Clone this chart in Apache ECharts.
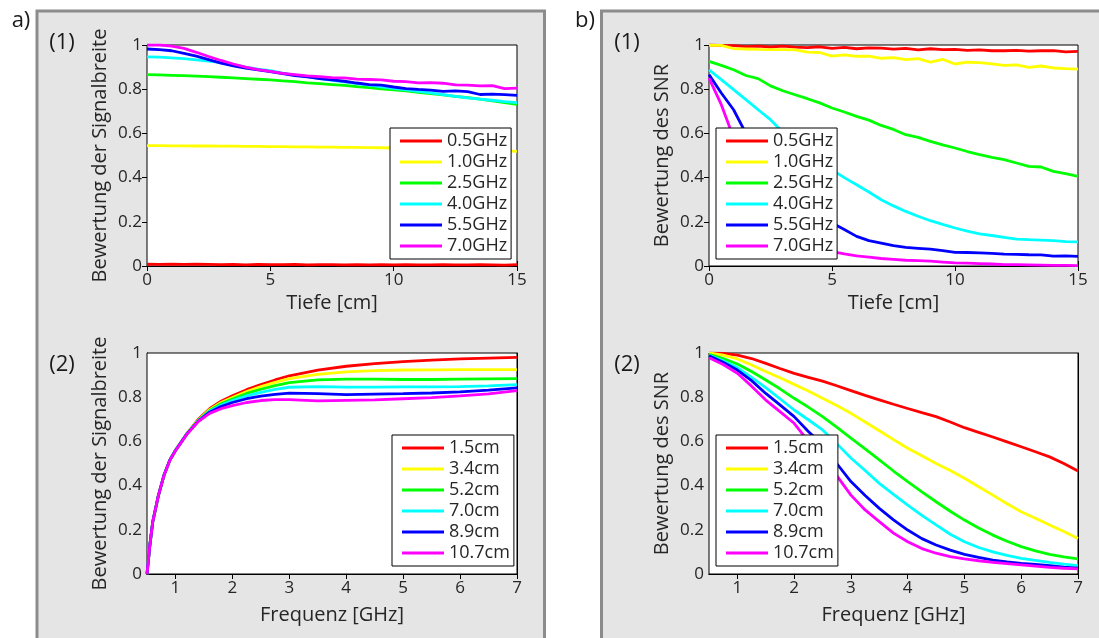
<!DOCTYPE html>
<html><head><meta charset="utf-8">
<script src="https://cdn.jsdelivr.net/npm/echarts@6/dist/echarts.min.js"></script>
<style>html,body{margin:0;padding:0;background:#fff}#c{width:1099px;height:638px}</style>
</head><body><div id="c"></div>
<script>
// ---------- data ----------
const freqNames = ['0.5GHz','1.0GHz','2.5GHz','4.0GHz','5.5GHz','7.0GHz'];
const depthNames = ['1.5cm','3.4cm','5.2cm','7.0cm','8.9cm','10.7cm'];
const lineColors = ['#ff0000','#ffff00','#00ff00','#00ffff','#0000ff','#ff00ff'];
const yTicks = [0,0.2,0.4,0.6,0.8,1];
const depthTicks = [0,5,10,15];
const freqTicks = [1,2,3,4,5,6,7];

// x values
const depth = [0,0.5,1,1.5,2,2.5,3,3.5,4,4.5,5,5.5,6,6.5,7,7.5,8,8.5,9,9.5,10,10.5,11,11.5,12,12.5,13,13.5,14,14.5,15];
const freqA = [0.5,0.55,0.6,0.7,0.8,0.9,1.0,1.2,1.4,1.6,1.8,2.0,2.25,2.5,2.75,3.0,3.5,4.0,4.5,5.0,5.5,6.0,6.5,7.0];
const freqB = [0.5,0.75,1.0,1.25,1.5,1.75,2.0,2.25,2.5,2.75,3.0,3.25,3.5,3.75,4.0,4.25,4.5,4.75,5.0,5.25,5.5,5.75,6.0,6.25,6.5,6.75,7.0];

// a) (1) Signalbreite vs Tiefe
const a1_05 = [0.008,0.007,0.008,0.007,0.008,0.007,0.006,0.007,0.005,0.007,0.006,0.006,0.007,0.005,0.006,0.006,0.005,0.006,0.005,0.006,0.005,0.006,0.005,0.005,0.006,0.005,0.005,0.006,0.005,0.004,0.006];
const a1_10 = [0.545,0.545,0.544,0.544,0.543,0.543,0.542,0.542,0.541,0.541,0.540,0.540,0.539,0.539,0.538,0.538,0.537,0.537,0.536,0.535,0.534,0.533,0.533,0.532,0.531,0.530,0.528,0.527,0.525,0.522,0.519];
const a1_25 = [0.866,0.865,0.863,0.861,0.859,0.857,0.854,0.851,0.848,0.845,0.842,0.838,0.834,0.829,0.825,0.821,0.817,0.812,0.807,0.802,0.797,0.792,0.786,0.780,0.774,0.768,0.762,0.755,0.747,0.739,0.731];
const a1_40 = [0.946,0.945,0.942,0.938,0.933,0.927,0.920,0.911,0.900,0.891,0.884,0.873,0.864,0.857,0.848,0.840,0.833,0.825,0.818,0.811,0.804,0.797,0.790,0.783,0.775,0.768,0.761,0.755,0.750,0.744,0.739];
const a1_55 = [0.982,0.979,0.974,0.962,0.950,0.934,0.918,0.906,0.895,0.887,0.880,0.870,0.862,0.856,0.848,0.842,0.836,0.828,0.821,0.818,0.810,0.803,0.799,0.796,0.790,0.792,0.789,0.776,0.778,0.775,0.772];
const a1_70 = [1.000,1.000,0.995,0.985,0.967,0.948,0.930,0.914,0.900,0.889,0.881,0.872,0.866,0.860,0.857,0.852,0.851,0.846,0.844,0.842,0.836,0.834,0.829,0.830,0.827,0.820,0.818,0.815,0.816,0.803,0.805];

// b) (1) SNR vs Tiefe
const b1_05 = [1.000,0.998,0.997,0.993,0.995,0.991,0.995,0.990,0.988,0.992,0.985,0.989,0.983,0.987,0.986,0.981,0.985,0.978,0.983,0.979,0.980,0.976,0.978,0.974,0.974,0.976,0.972,0.974,0.975,0.969,0.971];
const b1_10 = [0.998,0.998,0.984,0.982,0.980,0.979,0.979,0.978,0.968,0.966,0.950,0.955,0.949,0.950,0.940,0.943,0.934,0.938,0.922,0.935,0.914,0.922,0.920,0.915,0.908,0.910,0.899,0.905,0.896,0.893,0.891];
const b1_25 = [0.926,0.908,0.888,0.862,0.848,0.815,0.793,0.775,0.757,0.738,0.715,0.697,0.677,0.660,0.636,0.618,0.594,0.582,0.564,0.548,0.534,0.518,0.504,0.492,0.481,0.466,0.451,0.448,0.428,0.418,0.406];
const b1_40 = [0.888,0.843,0.798,0.753,0.707,0.662,0.605,0.565,0.520,0.478,0.435,0.400,0.368,0.335,0.300,0.272,0.247,0.225,0.205,0.188,0.172,0.158,0.145,0.138,0.130,0.122,0.119,0.117,0.115,0.110,0.109];
const b1_55 = [0.866,0.783,0.707,0.600,0.500,0.420,0.360,0.300,0.260,0.222,0.195,0.165,0.134,0.115,0.104,0.092,0.084,0.080,0.076,0.070,0.062,0.061,0.059,0.057,0.054,0.053,0.051,0.050,0.045,0.046,0.044];
const b1_70 = [0.850,0.730,0.580,0.450,0.340,0.260,0.190,0.140,0.105,0.082,0.065,0.055,0.046,0.040,0.034,0.030,0.026,0.024,0.022,0.018,0.014,0.013,0.011,0.009,0.006,0.006,0.005,0.004,0.003,0.003,0.002];

// a) (2) Signalbreite vs Frequenz
const a2_15  = [0,0.13,0.235,0.355,0.448,0.515,0.560,0.635,0.700,0.748,0.782,0.806,0.834,0.857,0.878,0.897,0.923,0.940,0.952,0.961,0.968,0.973,0.977,0.980];
const a2_34  = [0,0.13,0.235,0.355,0.448,0.515,0.560,0.635,0.697,0.744,0.776,0.799,0.826,0.848,0.867,0.884,0.903,0.915,0.920,0.923,0.924,0.925,0.925,0.925];
const a2_52  = [0,0.13,0.235,0.355,0.448,0.515,0.560,0.635,0.695,0.740,0.770,0.792,0.817,0.836,0.852,0.866,0.878,0.882,0.882,0.880,0.880,0.882,0.883,0.884];
const a2_70  = [0,0.13,0.235,0.355,0.448,0.515,0.560,0.634,0.693,0.736,0.764,0.785,0.806,0.822,0.835,0.845,0.848,0.846,0.846,0.847,0.847,0.848,0.851,0.857];
const a2_89  = [0,0.13,0.235,0.355,0.448,0.515,0.559,0.633,0.692,0.732,0.758,0.776,0.793,0.805,0.813,0.818,0.816,0.812,0.814,0.816,0.819,0.824,0.832,0.842];
const a2_107 = [0,0.13,0.235,0.355,0.447,0.514,0.558,0.632,0.690,0.727,0.748,0.762,0.776,0.785,0.789,0.789,0.783,0.786,0.788,0.793,0.798,0.806,0.815,0.830];

// b) (2) SNR vs Frequenz
const b2_15  = [1.000,0.998,0.990,0.975,0.953,0.930,0.908,0.890,0.873,0.852,0.830,0.808,0.788,0.768,0.749,0.730,0.712,0.688,0.662,0.641,0.620,0.598,0.576,0.553,0.530,0.500,0.466];
const b2_34  = [1.000,0.990,0.973,0.946,0.916,0.888,0.858,0.828,0.795,0.762,0.727,0.688,0.648,0.608,0.569,0.535,0.500,0.468,0.433,0.395,0.357,0.318,0.282,0.252,0.222,0.192,0.161];
const b2_52  = [0.994,0.975,0.950,0.916,0.878,0.838,0.795,0.755,0.712,0.665,0.615,0.566,0.516,0.466,0.418,0.372,0.327,0.284,0.244,0.208,0.176,0.148,0.124,0.105,0.089,0.077,0.068];
const b2_70  = [0.990,0.965,0.934,0.890,0.843,0.793,0.742,0.698,0.652,0.590,0.525,0.468,0.410,0.360,0.312,0.265,0.222,0.180,0.146,0.120,0.100,0.084,0.071,0.062,0.053,0.045,0.038];
const b2_89  = [0.988,0.958,0.923,0.875,0.817,0.765,0.712,0.645,0.585,0.500,0.418,0.355,0.297,0.245,0.199,0.160,0.131,0.108,0.089,0.075,0.063,0.055,0.048,0.043,0.038,0.031,0.026];
const b2_107 = [0.979,0.948,0.908,0.850,0.787,0.735,0.682,0.600,0.520,0.445,0.357,0.290,0.237,0.185,0.146,0.115,0.094,0.079,0.068,0.060,0.053,0.047,0.041,0.036,0.030,0.026,0.023];

// ---------- build ----------
const FONT = '"Open Sans", "DejaVu Sans", sans-serif';
const TXT = '#262626';
const grids = [
  {left:147, top:45,  width:370, height:221},
  {left:709, top:45,  width:369, height:221},
  {left:147, top:353, width:370, height:221},
  {left:709, top:353, width:369, height:221}
];
const panels = [
  {x: depth, names: freqNames, ys:[a1_05,a1_10,a1_25,a1_40,a1_55,a1_70], xName:'Tiefe [cm]', yName:'Bewertung der Signalbreite', freq:false},
  {x: depth, names: freqNames, ys:[b1_05,b1_10,b1_25,b1_40,b1_55,b1_70], xName:'Tiefe [cm]', yName:'Bewertung des SNR', freq:false},
  {x: freqA, names: depthNames, ys:[a2_15,a2_34,a2_52,a2_70,a2_89,a2_107], xName:'Frequenz [GHz]', yName:'Bewertung der Signalbreite', freq:true},
  {x: freqB, names: depthNames, ys:[b2_15,b2_34,b2_52,b2_70,b2_89,b2_107], xName:'Frequenz [GHz]', yName:'Bewertung des SNR', freq:true}
];
const legendPos = [
  {left:390, top:128}, {left:716, top:128}, {left:392, top:435}, {left:716, top:435}
];

const xAxes = [], yAxes = [], series = [], legends = [];
const lineAxis = {show:true, lineStyle:{color:'#000', width:1}};
const tickIn = {show:true, inside:true, length:5, lineStyle:{color:'#000', width:1}};
panels.forEach((p, g) => {
  const xr = p.freq ? {min:0.5, max:7} : {min:0, max:15, interval:5};
  const tickExtra = p.freq ? {customValues: freqTicks} : {};
  xAxes.push(Object.assign({
    type:'value', gridIndex:g, position:'bottom',
    axisLine: lineAxis,
    axisTick: Object.assign({}, tickIn, tickExtra),
    axisLabel: Object.assign({color:TXT, fontSize:17, fontFamily:FONT, margin:6}, tickExtra),
    splitLine:{show:false},
    name:p.xName, nameLocation:'middle', nameGap: p.freq ? 31 : 27,
    nameTextStyle:{color:TXT, fontSize:20, fontFamily:FONT}
  }, xr));
  xAxes.push(Object.assign({
    type:'value', gridIndex:g, position:'top',
    axisLine: lineAxis,
    axisTick: Object.assign({}, tickIn, tickExtra),
    axisLabel: {show:false}, splitLine:{show:false}
  }, xr));
  yAxes.push({
    type:'value', gridIndex:g, position:'left', min:0, max:1, interval:0.2,
    axisLine: lineAxis, axisTick: tickIn,
    axisLabel:{color:TXT, fontSize:17, fontFamily:FONT, margin:5},
    splitLine:{show:false},
    name:p.yName, nameLocation:'middle', nameGap:37,
    nameTextStyle:{color:TXT, fontSize:20, fontFamily:FONT}
  });
  yAxes.push({
    type:'value', gridIndex:g, position:'right', min:0, max:1, interval:0.2,
    axisLine: lineAxis, axisTick: tickIn,
    axisLabel:{show:false}, splitLine:{show:false}
  });
  p.ys.forEach((ys, i) => {
    series.push({
      type:'line', name:p.names[i], xAxisIndex:2*g, yAxisIndex:2*g,
      data: p.x.map((xv, k) => [xv, ys[k]]),
      showSymbol:false, symbol:'none', animation:false,
      lineStyle:{color:lineColors[i], width:2.8},
      itemStyle:{color:lineColors[i]},
      z:3
    });
  });
  legends.push({
    data:p.names, orient:'vertical', left:legendPos[g].left, top:legendPos[g].top,
    icon:'rect', itemWidth:42, itemHeight:3, itemGap:0,
    padding:[2.5,4,2.5,10], backgroundColor:'#fff', borderColor:'#000', borderWidth:1,
    selectedMode:false, z:10,
    textStyle:{color:TXT, fontSize:18, fontFamily:FONT, lineHeight:21}
  });
});

const txt = (s, x, y, size) => ({
  type:'text', x:x, y:y, z:5, silent:true,
  style:{text:s, font: size + 'px ' + FONT, fill:'#1a1a1a', textAlign:'center', textVerticalAlign:'middle', align:'center', verticalAlign:'middle'}
});

const option = {
  backgroundColor:'#fff',
  animation:false,
  grid: grids.map(g => Object.assign({show:true, backgroundColor:'#fff', borderColor:'#000', borderWidth:1, z:2}, g)),
  xAxis: xAxes,
  yAxis: yAxes,
  legend: legends,
  series: series,
  graphic: [
    {type:'rect', z:-10, silent:true, shape:{x:37, y:11, width:507.5, height:700}, style:{fill:'#e5e5e5', stroke:'#8c8c8c', lineWidth:3}},
    {type:'rect', z:-10, silent:true, shape:{x:601.5, y:11, width:600, height:700}, style:{fill:'#e5e5e5', stroke:'#8c8c8c', lineWidth:3}},
    txt('a)', 21, 21, 22),
    txt('b)', 585, 21, 22),
    txt('(1)', 62, 43, 22),
    txt('(1)', 627, 43, 22),
    txt('(2)', 62, 365, 22),
    txt('(2)', 627, 365, 22)
  ]
};
const chart = echarts.init(document.getElementById('c'), null, {renderer:'canvas'});
chart.setOption(option);
</script>
</body></html>
